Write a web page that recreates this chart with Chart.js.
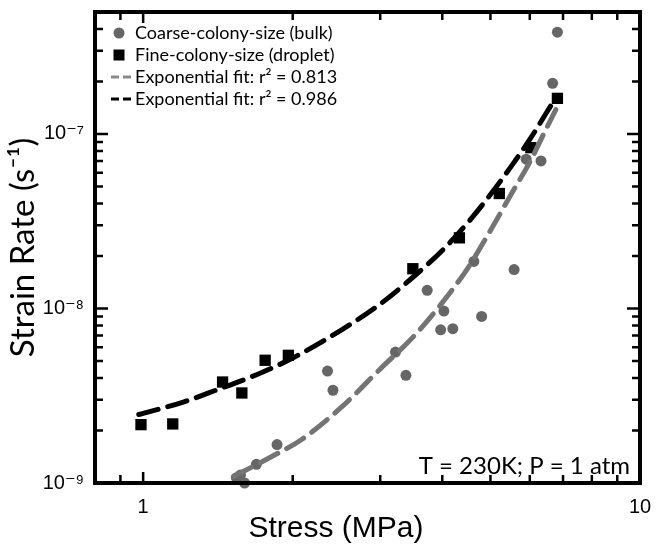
<!DOCTYPE html>
<html>
<head>
<meta charset="utf-8">
<script src="https://cdn.jsdelivr.net/npm/chart.js@4.4.1/dist/chart.umd.min.js"></script>
<style>
  html, body { margin: 0; padding: 0; background: #fff; }
  #wrap { width: 661px; height: 545px; }
</style>
</head>
<body>
<div id="wrap"><canvas id="strainChart" width="661" height="545"></canvas></div>
<script>
// Coarse-colony-size (bulk) - grey circles
const coarseStress = [1.54, 1.57, 1.60, 1.69, 1.86, 2.35, 2.41, 3.22, 3.38, 3.73, 3.97, 4.03, 4.20, 4.63, 4.80, 5.58, 5.90, 6.32, 6.67, 6.82];
const coarseRate = [1.07e-9, 1.11e-9, 1.0e-9, 1.28e-9, 1.66e-9, 4.38e-9, 3.40e-9, 5.63e-9, 4.14e-9, 1.27e-8, 7.55e-9, 9.66e-9, 7.66e-9, 1.86e-8, 9.0e-9, 1.67e-8, 7.17e-8, 7.01e-8, 1.95e-7, 3.83e-7];

// Fine-colony-size (droplet) - black squares
const fineStress = [0.99, 1.147, 1.445, 1.58, 1.76, 1.96, 3.49, 4.33, 5.21, 6.03, 6.82];
const fineRate = [2.16e-9, 2.18e-9, 3.79e-9, 3.28e-9, 5.05e-9, 5.39e-9, 1.69e-8, 2.54e-8, 4.56e-8, 8.35e-8, 1.60e-7];

// fit curves
const coarseFitStress = [1.52, 1.8, 2.1, 2.5, 3.0, 3.5, 4.0, 4.5, 5.0, 5.5, 6.0, 6.4, 6.77];
const coarseFitRate = [1.09e-9, 1.4e-9, 1.8e-9, 2.7e-9, 4.5e-9, 6.9e-9, 1.08e-8, 1.7e-8, 2.8e-8, 4.5e-8, 6.9e-8, 1.0e-7, 1.38e-7];
const fineFitStress = [0.98, 1.2, 1.4, 1.7, 2.0, 2.5, 3.0, 3.5, 4.0, 4.5, 5.0, 5.5, 6.0, 6.5, 6.8];
const fineFitRate = [2.47e-9, 2.9e-9, 3.4e-9, 4.2e-9, 5.2e-9, 7.5e-9, 1.06e-8, 1.52e-8, 2.15e-8, 3.1e-8, 4.5e-8, 6.5e-8, 9.3e-8, 1.34e-7, 1.65e-7];

// axis ticks
const xTickValues = [0.9, 1, 2, 3, 4, 5, 6, 7, 8, 9, 10];
const xMajor = [1, 10];
const xTickLabels = { 1: '1', 10: '10' };
const yTickValues = [1e-9, 2e-9, 3e-9, 4e-9, 5e-9, 6e-9, 7e-9, 8e-9, 9e-9,
                     1e-8, 2e-8, 3e-8, 4e-8, 5e-8, 6e-8, 7e-8, 8e-8, 9e-8,
                     1e-7, 2e-7, 3e-7, 4e-7];
const yMajor = [1e-9, 1e-8, 1e-7];
const yTickLabels = { '1e-9': '10\u207B\u2079', '1e-8': '10\u207B\u2078', '1e-7': '10\u207B\u2077' };

const legendItems = [
    { text: 'Coarse-colony-size (bulk)', kind: 'circle', color: '#666666' },
    { text: 'Fine-colony-size (droplet)', kind: 'square', color: '#000000' },
    { text: 'Exponential fit: r\u00B2 = 0.813', kind: 'dash', color: '#8a8a8a' },
    { text: 'Exponential fit: r\u00B2 = 0.986', kind: 'dash', color: '#000000' }
];
const noteText = 'T = 230K; P = 1 atm';
const xTitle = 'Stress (MPa)';

const toPoints = (xs, ys) => xs.map((x, i) => ({ x: x, y: ys[i] }));
const isMajor = (list, v) => list.some(m => Math.abs(m - v) / m < 1e-6);

// inward ticks on all four sides + thick frame, legend, note and x title
const framePlugin = {
    id: 'framePlugin',
    afterDraw(chart) {
        const ctx = chart.ctx;
        const area = chart.chartArea;
        const xs = chart.scales.x;
        const ys = chart.scales.y;
        ctx.save();
        ctx.strokeStyle = '#000';
        ctx.lineWidth = 2.5;
        xTickValues.forEach(v => {
            const px = xs.getPixelForValue(v);
            const len = isMajor(xMajor, v) ? 11 : 8;
            ctx.beginPath();
            ctx.moveTo(px, area.bottom); ctx.lineTo(px, area.bottom - len);
            ctx.moveTo(px, area.top); ctx.lineTo(px, area.top + len);
            ctx.stroke();
        });
        yTickValues.forEach(v => {
            const py = ys.getPixelForValue(v);
            const len = isMajor(yMajor, v) ? 13 : 8;
            ctx.beginPath();
            ctx.moveTo(area.left, py); ctx.lineTo(area.left + len, py);
            ctx.moveTo(area.right, py); ctx.lineTo(area.right - len, py);
            ctx.stroke();
        });
        ctx.lineWidth = 4;
        ctx.strokeRect(area.left, area.top, area.right - area.left, area.bottom - area.top);

        // legend
        ctx.font = '18px Lato, "Open Sans", sans-serif';
        ctx.textBaseline = 'middle';
        ctx.textAlign = 'left';
        legendItems.forEach((item, i) => {
            const cy = area.top + 21 + i * 22;
            const mx = area.left + 24;
            ctx.fillStyle = item.color;
            ctx.strokeStyle = item.color;
            if (item.kind === 'circle') {
                ctx.beginPath(); ctx.arc(mx, cy, 5.5, 0, Math.PI * 2); ctx.fill();
            } else if (item.kind === 'square') {
                ctx.fillRect(mx - 5.5, cy - 5.5, 11, 11);
            } else {
                ctx.lineWidth = 3;
                ctx.setLineDash([8, 4]);
                ctx.beginPath(); ctx.moveTo(mx - 8, cy); ctx.lineTo(mx + 13, cy); ctx.stroke();
                ctx.setLineDash([]);
            }
            ctx.fillStyle = '#000';
            ctx.fillText(item.text, area.left + 40, cy);
        });

        // condition note, bottom right
        ctx.font = '24px Lato, "Open Sans", sans-serif';
        ctx.textAlign = 'right';
        ctx.textBaseline = 'alphabetic';
        ctx.fillText(noteText, area.right - 10, area.bottom - 9);

        // x axis title, sits left of centre in the original
        ctx.font = '30px "Liberation Sans", Arial, sans-serif';
        ctx.textAlign = 'center';
        ctx.textBaseline = 'middle';
        ctx.fillText(xTitle, 336, 529);
        ctx.restore();
    }
};

const ctx = document.getElementById('strainChart').getContext('2d');
window.myChart = new Chart(ctx, {
    type: 'scatter',
    data: {
        datasets: [
            {
                label: 'Exponential fit: r\u00B2 = 0.813',
                data: toPoints(coarseFitStress, coarseFitRate),
                showLine: true,
                borderColor: '#747474',
                borderWidth: 5,
                borderDash: [20, 10],
                borderCapStyle: 'round',
                cubicInterpolationMode: 'monotone',
                pointRadius: 0
            },
            {
                label: 'Exponential fit: r\u00B2 = 0.986',
                data: toPoints(fineFitStress, fineFitRate),
                showLine: true,
                borderColor: '#000000',
                borderWidth: 5,
                borderDash: [20, 10],
                borderCapStyle: 'round',
                cubicInterpolationMode: 'monotone',
                pointRadius: 0
            },
            {
                label: 'Coarse-colony-size (bulk)',
                data: toPoints(coarseStress, coarseRate),
                pointStyle: 'circle',
                pointRadius: 5.5,
                backgroundColor: '#666666',
                borderWidth: 0,
                clip: false
            },
            {
                label: 'Fine-colony-size (droplet)',
                data: toPoints(fineStress, fineRate),
                pointStyle: 'rect',
                pointRadius: 8,
                backgroundColor: '#000000',
                borderWidth: 0,
                clip: false
            }
        ]
    },
    options: {
        responsive: false,
        animation: false,
        devicePixelRatio: 1,
        layout: { padding: { top: 12, right: 21, left: 0, bottom: 0 } },
        plugins: {
            legend: { display: false },
            tooltip: { enabled: false }
        },
        scales: {
            x: {
                type: 'logarithmic',
                min: 0.8,
                max: 10,
                afterBuildTicks: scale => { scale.ticks = xTickValues.map(v => ({ value: v })); },
                afterFit: scale => {
                    scale.height = 62;
                    scale.paddingLeft = 0;
                    scale.paddingRight = 0;
                },
                grid: { display: false, drawTicks: false },
                border: { display: false },
                ticks: {
                    autoSkip: false,
                    maxRotation: 0,
                    padding: 12,
                    color: '#000',
                    font: { family: '"Liberation Sans", Arial, sans-serif', size: 20 },
                    callback: value => xTickLabels[value] || ''
                }
            },
            y: {
                type: 'logarithmic',
                min: 1e-9,
                max: 5e-7,
                afterBuildTicks: scale => { scale.ticks = yTickValues.map(v => ({ value: v })); },
                afterFit: scale => {
                    scale.width = 95;
                    scale.paddingTop = 0;
                    scale.paddingBottom = 0;
                },
                grid: { display: false, drawTicks: false },
                border: { display: false },
                ticks: {
                    autoSkip: false,
                    padding: 11,
                    color: '#000',
                    font: { family: '"Liberation Sans", "DejaVu Sans", sans-serif', size: 20 },
                    callback: value => yTickLabels[value.toExponential(0)] || ''
                },
                title: {
                    display: true,
                    text: 'Strain Rate (s\u207B\u00B9)',
                    color: '#000',
                    padding: { top: 4, bottom: 0 },
                    font: { family: 'Lato, "Open Sans", sans-serif', size: 33 }
                }
            }
        }
    },
    plugins: [framePlugin]
});
</script>
</body>
</html>
